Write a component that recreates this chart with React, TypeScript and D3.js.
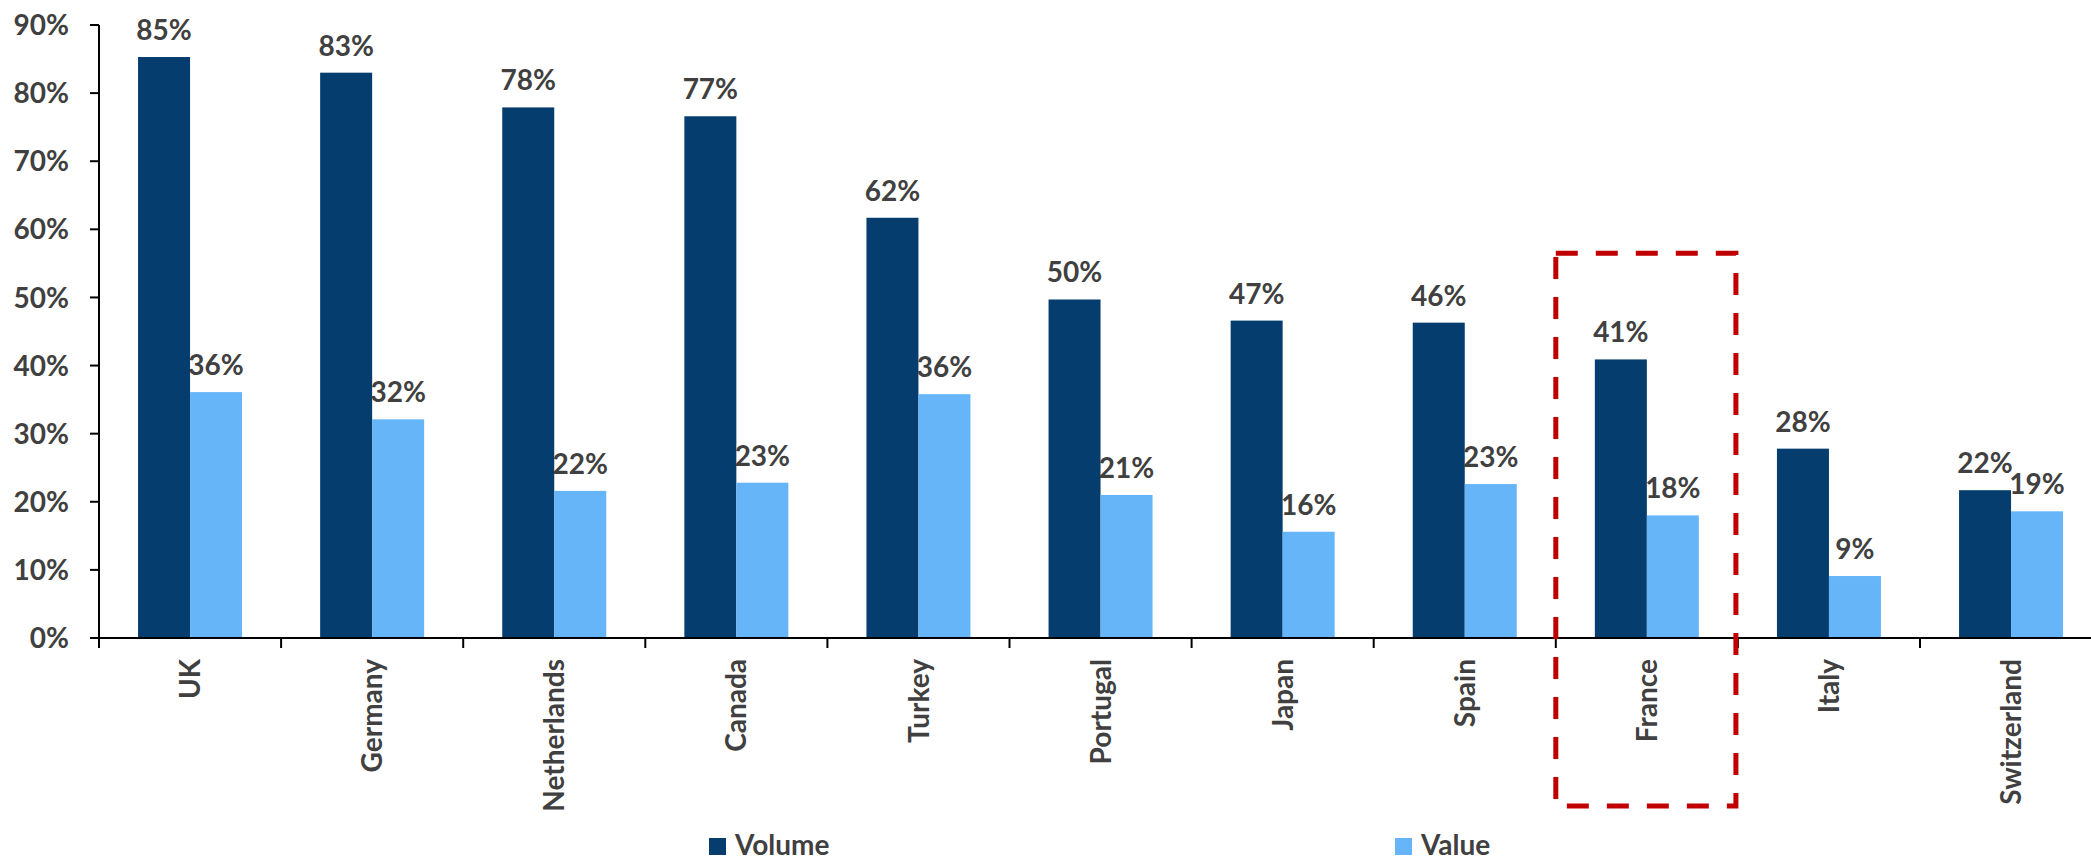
import React from "react";
import * as d3 from "d3";

const countries = ["UK", "Germany", "Netherlands", "Canada", "Turkey", "Portugal", "Japan", "Spain", "France", "Italy", "Switzerland"];
const volume = [85.3, 83.0, 77.9, 76.6, 61.7, 49.7, 46.6, 46.3, 40.9, 27.8, 21.7];
const value = [36.1, 32.1, 21.6, 22.8, 35.8, 21.0, 15.6, 22.6, 18.0, 9.1, 18.6];
const seriesNames = ["Volume", "Value"];
const seriesColors = ["#053D6E", "#66B5F8"];
const yTicks = [0, 10, 20, 30, 40, 50, 60, 70, 80, 90];
const highlighted = "France";

const W = 2091;
const H = 862;
const FONT = "Lato, 'Open Sans', sans-serif";
const TEXT = "#404040";
const FS = 28;

export default function App() {
  const x = d3.scaleBand<string>().domain(countries).range([99, 99 + 11 * 182.1]).padding(0);
  const bw = x.bandwidth();
  const groupW = 104;
  const xs = d3.scaleBand<string>().domain(seriesNames).range([(bw - groupW) / 2, (bw + groupW) / 2]).padding(0);
  const y = d3.scaleLinear().domain([0, 90]).range([638, 25]);
  const data = [volume, value];
  const y0 = y(0);

  const hx = x(highlighted)!;

  return (
    <svg width={W} height={H} style={{ position: "absolute", left: 0, top: 0, background: "#fff" }} fontFamily={FONT}>
      {/* bars */}
      {countries.map((c, i) => (
        <g key={c} transform={`translate(${x(c)},0)`}>
          {seriesNames.map((s, si) => {
            const v = data[si][i];
            const bx = xs(s)!;
            return (
              <g key={s}>
                <rect x={bx} y={y(v)} width={xs.bandwidth()} height={y0 - y(v)} fill={seriesColors[si]} />
                <text x={bx + xs.bandwidth() / 2} y={y(v) - 17} textAnchor="middle" fontSize={FS} fontWeight={700} fill={TEXT}>
                  {Math.round(v)}%
                </text>
              </g>
            );
          })}
        </g>
      ))}
      {/* y axis */}
      <line x1={99} x2={99} y1={y(90)} y2={y0} stroke="#000" strokeWidth={2} />
      {yTicks.map((t) => (
        <g key={t}>
          <line x1={90} x2={99} y1={y(t)} y2={y(t)} stroke="#000" strokeWidth={2} />
          <text x={69} y={y(t)} dy="0.36em" textAnchor="end" fontSize={FS} fontWeight={700} fill={TEXT}>
            {t}%
          </text>
        </g>
      ))}
      {/* x axis */}
      <line x1={90} x2={W} y1={y0} y2={y0} stroke="#000" strokeWidth={2} />
      {countries.map((c) => (
        <line key={c} x1={x(c)!} x2={x(c)!} y1={y0} y2={y0 + 10} stroke="#000" strokeWidth={2} />
      ))}
      {countries.map((c) => (
        <text
          key={c}
          transform={`translate(${x(c)! + bw / 2},${y0 + 21}) rotate(-90)`}
          dy="0.36em"
          textAnchor="end"
          fontSize={FS}
          fontWeight={700}
          fill={TEXT}
        >
          {c}
        </text>
      ))}
      {/* highlight box */}
      <rect
        x={hx}
        y={y(56.5)}
        width={bw - 2}
        height={806 - y(56.5)}
        fill="none"
        stroke="#C00000"
        strokeWidth={5}
        strokeDasharray="22 18"
      />
      {/* legend */}
      {seriesNames.map((s, si) => {
        const lx = si === 0 ? 709 : 1395;
        return (
          <g key={s}>
            <rect x={lx} y={838} width={17} height={17} fill={seriesColors[si]} />
            <text x={lx + 26} y={855} fontSize={FS} fontWeight={700} fill={TEXT}>
              {s}
            </text>
          </g>
        );
      })}
    </svg>
  );
}
